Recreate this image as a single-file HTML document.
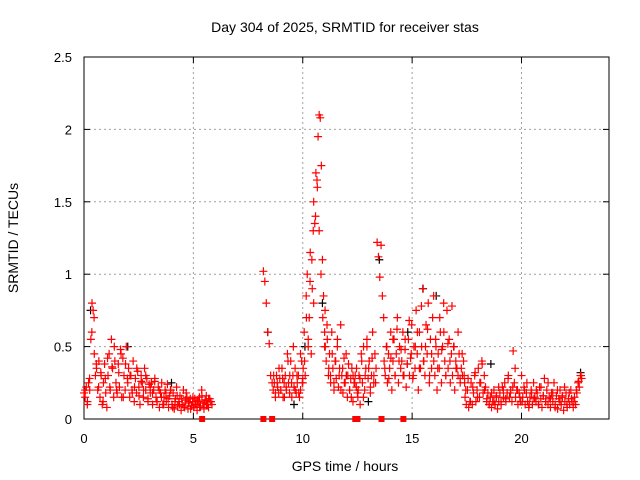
<!DOCTYPE html>
<html><head><meta charset="utf-8"><style>
body{margin:0;background:#fff;}
svg{display:block;font-family:"Liberation Sans",sans-serif;}
</style></head><body>
<svg id="chart" width="640" height="480">
<text x="345" y="32" font-size="14" text-anchor="middle">Day 304 of 2025, SRMTID for receiver stas</text>
<text x="345" y="471" font-size="14" text-anchor="middle">GPS time / hours</text>
<text x="0" y="0" font-size="14" text-anchor="middle" transform="translate(18,238) rotate(-90)">SRMTID / TECUs</text>
<g id="grid"></g>
<g id="axes"></g>
<g id="marks"></g>
</svg>
<script>
const xTicks=[0,5,10,15,20];
const yTicks=[0,0.5,1,1.5,2,2.5];
const yTickLabels=["0","0.5","1","1.5","2","2.5"];
const segRanges=[[0,5.85],[8.2,8.6],[8.65,10.0],[10.02,10.48],[10.5,11.0],[11.02,12.5],[12.52,13.35],[13.4,13.7],[13.72,17.4],[17.42,22.75]];
const seg1=[.18,.15,.22,.12,.25,.2,.55,.8,.75,.45,.3,.35,.2,.4,.15,.3,.1,.25,.38,.18,.08,.3,.45,.2,.55,.35,.15,.4,.25,.18,.38,.22,.48,.15,.42,.3,.2,.5,.28,.35,.15,.3,.2,.4,.12,.28,.18,.33,.22,.1,.3,.25,.15,.35,.2,.28,.12,.24,.18,.25,.1,.2,.28,.15,.12,.22,.08,.18,.25,.1,.15,.2,.12,.24,.08,.16,.2,.1,.18,.07,.14,.22,.09,.12,.16,.06,.1,.2,.08,.13,.15,.07,.11,.14,.09,.12,.08,.14,.1,.06,.12,.15,.09,.2,.11,.07,.13,.16,.1,.08,.14,.12,.1];
const seg2=[1.02,.95,.8,.6,.52,.3,.25];
const seg3=[.2,.25,.15,.3,.22,.18,.28,.2,.35,.15,.25,.3,.2,.45,.25,.18,.4,.15,.3,.22,.35,.18,.25,.3,.15,.2,.4,.28];
const seg4=[.35,.6,.3,.85,1.0,.5,.7,1.15,.45,.9,1.3];
const seg5=[1.5,1.35,1.7,1.65,1.95,2.1,2.08,1.75,1.1,.85,.6];
const seg6=[.75,.4,.55,.3,.45,.25,.6,.35,.2,.4,.28,.5,.22,.35,.65,.3,.18,.42,.25,.3,.15,.38,.2,.28,.35,.12,.25,.3,.22,.18];
const seg7=[.15,.3,.1,.45,.25,.5,.2,.35,.55,.28,.4,.18,.3,.6,.25,.45,.35];
const seg8=[1.22,1.12,.98,1.2,.85,.7];
const seg9=[.4,.3,.5,.25,.45,.35,.6,.2,.4,.55,.3,.45,.7,.25,.5,.35,.4,.6,.3,.48,.22,.38,.55,.3,.42,.65,.28,.5,.35,.75,.45,.2,.6,.35,.5,.9,.4,.3,.65,.45,.8,.25,.55,.35,.7,.4,.3,.5,.2,.45,.35,.6,.25,.5,.8,.4,.3,.75,.35,.55,.25,.45,.3,.5,.2,.4,.35,.3,.45,.25,.35,.3,.4,.25];
const seg10=[.15,.1,.2,.08,.12,.25,.1,.18,.3,.12,.2,.35,.15,.25,.4,.18,.3,.22,.12,.18,.1,.15,.08,.12,.2,.1,.15,.07,.12,.18,.1,.22,.15,.25,.12,.18,.3,.15,.2,.12,.47,.25,.15,.2,.1,.18,.12,.3,.15,.22,.1,.18,.12,.08,.15,.2,.1,.25,.15,.12,.18,.1,.22,.14,.08,.16,.28,.12,.2,.1,.15,.08,.18,.12,.25,.1,.16,.07,.14,.2,.1,.15,.06,.12,.18,.08,.14,.1,.2,.12,.08,.15,.1,.18,.25,.22,.3,.28];
const extraRanges=[[0.05,5.8],[8.67,9.98],[10.0,11.0],[11.03,13.33],[13.75,17.38],[17.45,22.72]];
const ex1=[.2,.1,.28,.6,.7,.38,.22,.32,.12,.28,.42,.22,.36,.5,.2,.32,.45,.15,.38,.25,.3,.18,.22,.35,.16,.26,.2,.3,.14,.22,.18,.26,.12,.2,.15,.1,.18,.14,.2,.08,.12,.16,.1,.14,.09,.18,.12,.07,.15,.1,.13,.08,.16,.11,.1,.14,.12];
const ex2=[.3,.18,.25,.35,.2,.28,.15,.22,.4,.3,.25,.5,.2,.3,.18,.45,.25];
const ex3=[.25,.4,.7,.55,.95,1.1,.8,1.4,1.6,1.3,1.0,.7,.5];
const ex4=[.5,.65,.35,.3,.45,.25,.4,.55,.3,.2,.35,.25,.45,.3,.2,.15,.3,.25,.35,.2,.28,.4,.15,.3,.5,.35,.22,.42,.3,.25];
const ex5=[.35,.5,.28,.42,.55,.3,.62,.4,.48,.3,.55,.38,.68,.45,.3,.5,.6,.35,.78,.4,.5,.62,.3,.45,.85,.55,.35,.7,.48,.6,.3,.52,.4,.78,.5,.35,.6,.28,.45,.3];
const ex6=[.2,.28,.12,.22,.32,.15,.25,.38,.2,.14,.1,.18,.12,.16,.22,.12,.2,.14,.28,.18,.22,.35,.2,.15,.12,.2,.25,.1,.18,.14,.2,.1,.22,.16,.12,.25,.14,.18,.08,.2,.12,.16,.22,.1,.18,.14,.12,.2,.26,.3];
const blackTimes=[0.3,2.0,4.0,8.4,9.6,10.1,10.9,12.0,13.0,13.5,14.8,15.5,16.1,18.6,22.7];
const blackValues=[0.75,0.5,0.25,0.6,0.1,0.5,0.8,0.3,0.12,1.1,0.6,0.9,0.85,0.38,0.32];
const zeroTimes=[5.4,8.2,8.6,12.4,12.5,13.6,14.6];

const L=84,R=609,T=57,B=419,NS="http://www.w3.org/2000/svg";
const X=t=>L+t/24*(R-L);
const Y=v=>B-v/2.5*(B-T);
function mk(tag,attrs,parent){const e=document.createElementNS(NS,tag);for(const k in attrs)e.setAttribute(k,attrs[k]);parent.appendChild(e);return e;}
const grid=document.getElementById('grid'),axes=document.getElementById('axes'),marks=document.getElementById('marks');
xTicks.forEach(t=>{
  if(t>0){const g=mk('line',{x1:X(t),x2:X(t),y1:T,y2:B,stroke:'#a0a0a0','stroke-dasharray':'2,3'},grid);
  
  }
  mk('line',{x1:X(t),x2:X(t),y1:B,y2:B-6,stroke:'#000'},axes);
  mk('line',{x1:X(t),x2:X(t),y1:T,y2:T+6,stroke:'#000'},axes);
  const tx=mk('text',{x:X(t),y:B+24,'font-size':13,'text-anchor':'middle',fill:'#000'},axes);
  tx.textContent=t;
  
  
});
yTicks.forEach((v,i)=>{
  if(v>0&&v<2.5){const g=mk('line',{x1:L,x2:R,y1:Y(v),y2:Y(v),stroke:'#a0a0a0','stroke-dasharray':'2,3'},grid);
  
  }
  mk('line',{x1:L,x2:L+6,y1:Y(v),y2:Y(v),stroke:'#000'},axes);
  mk('line',{x1:R,x2:R-6,y1:Y(v),y2:Y(v),stroke:'#000'},axes);
  const tx=mk('text',{x:L-12,y:Y(v)+5,'font-size':13,'text-anchor':'end',fill:'#000'},axes);
  tx.textContent=yTickLabels[i];
  
  
});
const frame=mk('rect',{x:L,y:T,width:R-L,height:B-T,fill:'none',stroke:'#000'},axes);


function plus(t,v,col,name){
  const x=X(t),y=Y(v);
  const p=mk('path',{d:`M${x-4},${y}H${x+4}M${x},${y-4}V${y+4}`,stroke:col,'stroke-width':1.2,fill:'none'},marks);
  
  
}
function drawSegs(list,ranges){
  list.forEach((arr,si)=>{
    const [a,b]=ranges[si];
    arr.forEach((v,i)=>{
      const t=arr.length>1?a+i*(b-a)/(arr.length-1):a;
      plus(t,v,'#ff0000','srmtid-point');
    });
  });
}
blackTimes.forEach((t,i)=>plus(t,blackValues[i],'#000','black-point'));
drawSegs([seg1,seg2,seg3,seg4,seg5,seg6,seg7,seg8,seg9,seg10],segRanges);
drawSegs([ex1,ex2,ex3,ex4,ex5,ex6],extraRanges);
zeroTimes.forEach(t=>{
  const r=mk('rect',{x:X(t)-3,y:Y(0)-3,width:6,height:6,fill:'#ff0000'},marks);
  
  
});
</script>
</body></html>
